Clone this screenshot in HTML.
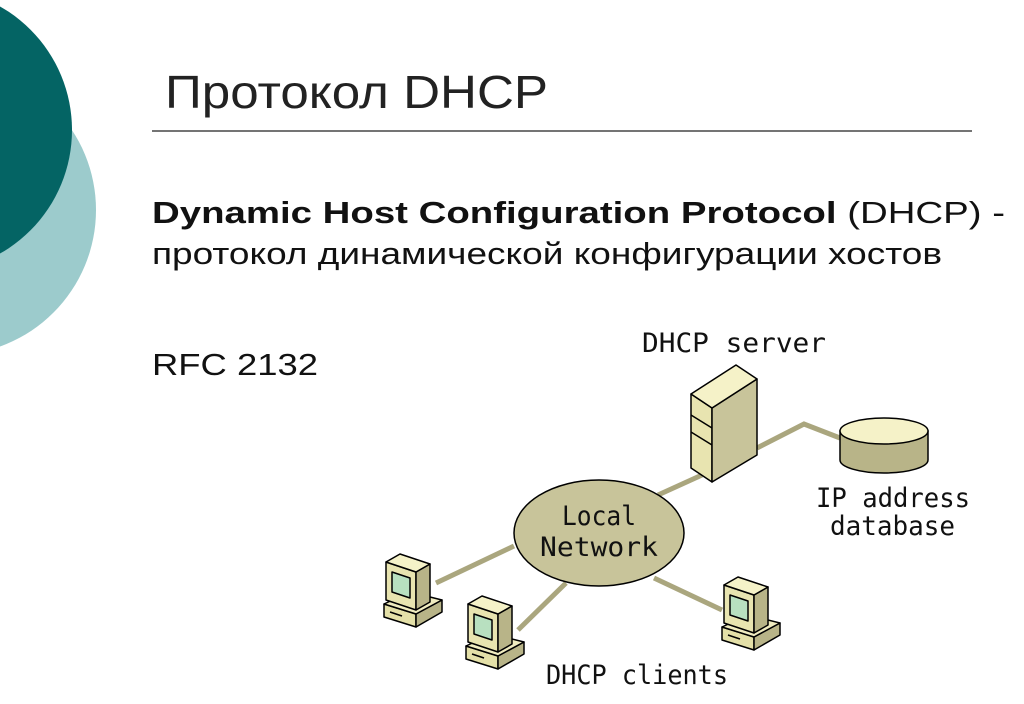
<!DOCTYPE html>
<html><head><meta charset="utf-8"><style>
html,body{margin:0;padding:0;background:#fff;}
body{width:1024px;height:704px;overflow:hidden;position:relative;font-family:"Liberation Sans","DejaVu Sans",sans-serif;}
</style></head><body>
<svg width="1024" height="704" viewBox="0 0 1024 704" xmlns="http://www.w3.org/2000/svg" style="position:absolute;left:0;top:0">
<defs>
<g id="pc" stroke="#000" stroke-width="1.5" stroke-linejoin="round">
  <polygon points="0,52 32,62 32,75 0,65" fill="#e4e0a8"/>
  <polygon points="32,62 58,48 58,60 32,75" fill="#b8b488"/>
  <polygon points="0,52 26,40 58,48 32,62" fill="#f0ecc0"/>
  <polygon points="2,10 32,20 32,58 2,48" fill="#e8e4b0"/>
  <polygon points="32,20 46,12 46,50 32,58" fill="#b8b488"/>
  <polygon points="2,10 16,2 46,12 32,20" fill="#f5f2c8"/>
  <polygon points="8,20 26,26 26,46 8,40" fill="#b8e0c0"/>
  <line x1="6" y1="60" x2="18" y2="64"/>
</g>
</defs>
<circle cx="-49" cy="210" r="145" fill="#9ccbcc"/>
<circle cx="-70" cy="130" r="142" fill="#046464"/>
<text x="165" y="108" font-size="46" fill="#222" textLength="383" lengthAdjust="spacingAndGlyphs">Протокол DHCP</text>
<line x1="152" y1="131" x2="972" y2="131" stroke="#222" stroke-width="1.2"/>
<text x="152" y="223" font-size="31" fill="#111" textLength="853" lengthAdjust="spacingAndGlyphs"><tspan font-weight="bold">Dynamic Host Configuration Protocol</tspan> (DHCP) -</text>
<text x="152" y="264" font-size="31" fill="#111" textLength="790" lengthAdjust="spacingAndGlyphs">протокол динамической конфигурации хостов</text>
<text x="152" y="375" font-size="31" fill="#111" textLength="166" lengthAdjust="spacingAndGlyphs">RFC 2132</text>

<g stroke="#aaa67e" stroke-width="5" fill="none">
<polyline points="757,448 804,424 840,438"/>
<line x1="658" y1="495" x2="702" y2="475"/>
<line x1="514" y1="546" x2="436" y2="583"/>
<line x1="566" y1="583" x2="518" y2="630"/>
<line x1="654" y1="578" x2="722" y2="610"/>
</g>
<g stroke="#000" stroke-width="1.5" stroke-linejoin="round">
<polygon points="691,394 712,408 712,482 691,468" fill="#e8e4b0"/>
<polygon points="712,408 757,379 757,455 712,482" fill="#c8c49a"/>
<polygon points="691,394 736,365 757,379 712,408" fill="#f5f2c8"/>
<line x1="691" y1="415" x2="712" y2="428"/>
<line x1="691" y1="432" x2="712" y2="445"/>
</g>
<g stroke="#000" stroke-width="1.5">
<path d="M840,431 L840,460 A44,13 0 0 0 928,460 L928,431 Z" fill="#b8b488"/>
<ellipse cx="884" cy="431" rx="44" ry="13" fill="#f5f2c8"/>
</g>
<ellipse cx="599" cy="533" rx="85" ry="53" fill="#c8c49a" stroke="#000" stroke-width="1.5"/>
<use href="#pc" x="384" y="552"/>
<use href="#pc" x="466" y="594"/>
<use href="#pc" x="722" y="575"/>
<g font-family="DejaVu Sans Mono, Liberation Mono, monospace" font-size="27" fill="#111">
<text x="642" y="352" textLength="184" lengthAdjust="spacingAndGlyphs">DHCP server</text>
<text x="816" y="507" textLength="154" lengthAdjust="spacingAndGlyphs">IP address</text>
<text x="830" y="535" textLength="125" lengthAdjust="spacingAndGlyphs">database</text>
<text x="562" y="525" textLength="74" lengthAdjust="spacingAndGlyphs">Local</text>
<text x="540" y="556" textLength="118" lengthAdjust="spacingAndGlyphs">Network</text>
<text x="546" y="684" textLength="182" lengthAdjust="spacingAndGlyphs">DHCP clients</text>
</g>
</svg>
</body></html>
